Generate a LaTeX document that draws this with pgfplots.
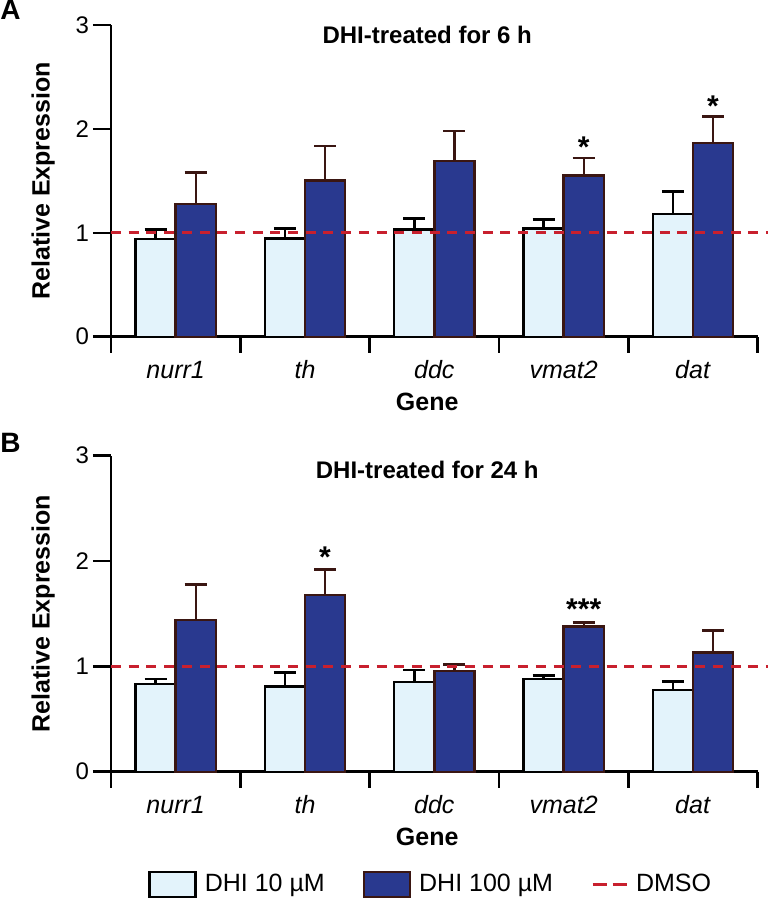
\documentclass[border=0pt]{standalone}
\usepackage{pgfplots}
\pgfplotsset{compat=1.18}
\usepackage{pgfplotstable}
\usepackage{fontspec}
\setmainfont{Liberation Sans}
\definecolor{lightbar}{RGB}{227,243,251}
\definecolor{darkbar}{RGB}{41,57,143}
\definecolor{brownedge}{RGB}{58,22,18}
\definecolor{dmso}{RGB}{200,32,46}

\pgfplotstableread{
x y e
0.345 0.94 0.09
1.345 0.945 0.10
2.345 1.03 0.11
3.345 1.04 0.09
4.345 1.18 0.22
}\topLight
\pgfplotstableread{
x y e
0.655 1.28 0.30
1.655 1.505 0.33
2.655 1.69 0.29
3.655 1.55 0.17
4.655 1.865 0.255
}\topDark
\pgfplotstableread{
x y e
0.345 0.835 0.045
1.345 0.81 0.13
2.345 0.85 0.115
3.345 0.88 0.03
4.345 0.775 0.08
}\botLight
\pgfplotstableread{
x y e
0.655 1.44 0.34
1.655 1.68 0.24
2.655 0.955 0.065
3.655 1.377 0.038
4.655 1.133 0.207
}\botDark
\pgfplotstableread{
x y t
3.655 1.82 *
4.655 2.215 *
}\topStars
\pgfplotstableread{
x y t
1.655 2.035 *
3.655 1.54 ***
}\botStars

\pgfplotsset{
  myaxis/.style={
    width=323.35pt, scale only axis,
    xmin=0, xmax=5, ymin=0, ymax=3,
    axis x line*=bottom, axis y line*=left,
    axis line style={line width=1.3pt, black},
    ytick={0,1,2,3},
    xtick={0.5,1.5,2.5,3.5,4.5},
    xticklabels={\textit{nurr1},\textit{th},\textit{ddc},\textit{vmat2},\textit{dat}},
    minor xtick={0,1,2,3,4,5},
    tick align=outside,
    major tick length=9pt, minor tick length=8pt,
    tick style={line width=1.3pt, black},
    major x tick style={draw=none},
    /pgf/number format/assume math mode=true,
    yticklabel style={font=\fontsize{12}{12}\selectfont, xshift=1.5pt},
    xticklabel style={font=\fontsize{12.5}{12.5}\selectfont, anchor=base, yshift=-12pt},
    ylabel={Relative Expression},
    ylabel style={at={(axis description cs:-0.105,0.5)}, anchor=center, font=\bfseries\fontsize{12.5}{12.5}\selectfont},
    xlabel={Gene},
    xlabel style={at={(axis description cs:0.489,0)}, anchor=center, yshift=-32.5pt, font=\bfseries\fontsize{12.5}{12.5}\selectfont},
    title style={anchor=center, font=\bfseries\fontsize{12}{12}\selectfont},
    clip=false,
  },
  lightplot/.style={ybar, bar width=0.31, bar shift=0pt, fill=lightbar, draw=black, line width=1.2pt,
    legend image code/.code={\draw[##1, line width=1.2pt] (0pt,-6.25pt) rectangle (23pt,6.25pt);},
    error bars/.cd, y dir=plus, y explicit,
    error bar style={line width=1.2pt, black},
    error mark options={rotate=90, line width=1.4pt, mark size=5.5pt, black}},
  darkplot/.style={ybar, bar width=0.31, bar shift=0pt, fill=darkbar, draw=brownedge, line width=1.2pt,
    legend image code/.code={\draw[##1, line width=1.2pt] (0pt,-6.25pt) rectangle (23pt,6.25pt);},
    error bars/.cd, y dir=plus, y explicit,
    error bar style={line width=1.2pt, brownedge},
    error mark options={rotate=90, line width=1.4pt, mark size=5.5pt, brownedge}},
  dmsoplot/.style={dmso, line width=1.5pt, dash pattern=on 5pt off 3.85pt,
    legend image code/.code={\draw[##1, dash pattern=on 7pt off 3pt] (0pt,0pt) -- (17pt,0pt);}},
  starplot/.style={only marks, mark=*, mark size=0pt, mark options={draw=none, fill=none},
    nodes near coords, point meta=explicit symbolic,
    nodes near coords style={anchor=center, inner sep=0pt, font=\bfseries\fontsize{15}{15}\selectfont, black}},
}

\begin{document}
\begin{tikzpicture}
\useasboundingbox (0,0) rectangle (383.5pt,-450pt);
\node[anchor=north west, inner sep=0pt, font=\bfseries\fontsize{14}{14}\selectfont] at (0,0) {A};
\node[anchor=north west, inner sep=0pt, font=\bfseries\fontsize{14}{14}\selectfont] at (0,-216.5pt) {B};

\begin{axis}[myaxis, height=155.85pt, at={(55.5pt,-168.35pt)}, anchor=south west,
  title={DHI-treated for 6 h}, title style={at={(axis description cs:0.489,0.9295)}}]
\addplot[lightplot] table[x=x, y=y, y error=e] {\topLight};
\addplot[darkplot] table[x=x, y=y, y error=e] {\topDark};
\addplot[dmsoplot] coordinates {(0,1) (5.1,1)};
\addplot[starplot] table[x=x, y=y, meta=t] {\topStars};
\end{axis}

\begin{axis}[myaxis, height=158pt, at={(55.5pt,-385.85pt)}, anchor=south west,
  title={DHI-treated for 24 h}, title style={at={(axis description cs:0.489,0.917)}},
  legend style={at={(axis description cs:0.0572,-0.357)}, anchor=west, draw=none, fill=none,
    legend columns=3, font=\fontsize{12.5}{12.5}\selectfont, inner sep=0pt,
    nodes={inner sep=0pt},
    /tikz/every odd column/.append style={column sep=4pt},
    /tikz/every even column/.append style={column sep=19pt}},
  legend cell align=left]
\addplot[lightplot] table[x=x, y=y, y error=e] {\botLight};
\addlegendentry{DHI 10 µM\hspace{3pt}}
\addplot[darkplot] table[x=x, y=y, y error=e] {\botDark};
\addlegendentry{DHI 100 µM}
\addplot[dmsoplot] coordinates {(0,1) (5.1,1)};
\addlegendentry{DMSO}
\addplot[starplot, forget plot] table[x=x, y=y, meta=t] {\botStars};
\end{axis}
\end{tikzpicture}
\end{document}
